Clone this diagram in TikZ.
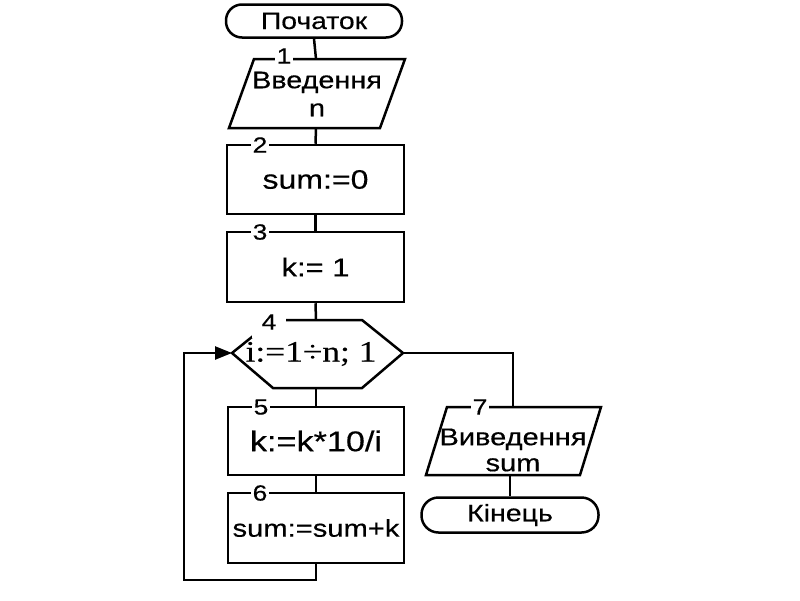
\documentclass[tikz,border=0pt]{standalone}
\usepackage{fontspec}
\setmainfont{Liberation Sans}[FakeStretch=1.2,FakeBold=0.4]
\newfontfamily\serifx{Liberation Serif}[FakeStretch=1.2,FakeBold=0.3]
\usetikzlibrary{arrows.meta}
\begin{document}
\begin{tikzpicture}[x=1pt,y=-1pt, line width=2.5pt, line join=miter,
  box/.style={draw, minimum width=177pt, minimum height=69pt, inner sep=0pt},
  term/.style={draw, rounded corners=16pt, minimum width=176pt, minimum height=33pt, inner sep=0pt},
  num/.style={fill=white, inner sep=1.5pt, font=\fontsize{22}{22}\selectfont},
  txt/.style={align=center, inner sep=0pt},
  fs/.style={font=\fontsize{#1}{#1}\selectfont}]
\useasboundingbox (0,0) rectangle (800,600);

% start terminal
\node[term, fs=23.6] (start) at (314,21) {Початок};

% 1: input parallelogram
\draw (254,59) -- (405,59) -- (380,128) -- (229,128) -- cycle;
\coordinate (p1top) at (316,59);
\coordinate (p1bot) at (316,128);
\node[txt, font=\fontsize{24}{28}\selectfont] (p1) at (317,94) {Введення\\n};

% 2, 3 boxes
\node[box, fs=26.7] (b2) at (315.5,179.5) {sum:=0};
\node[box, minimum height=70pt, fs=25.8] (b3) at (315.5,267) {k:= 1};

% 4: hexagon
\draw (232,353) -- (273,320) -- (362,320) -- (403,353) -- (362,388) -- (273,388) -- cycle;
\coordinate (hleft) at (232,353);
\coordinate (hright) at (403,353);
\coordinate (htop) at (316,320);
\coordinate (hbot) at (316,388);
\node[txt, font=\serifx\fontsize{29.5}{29.5}\selectfont] (h) at (311,354) {i:=1÷n;~1};

% 5, 6 boxes
\node[box, minimum width=176pt, minimum height=68pt, fs=28.5] (b5) at (316,441) {k:=k*10/i};
\node[box, minimum width=176pt, minimum height=70pt, fs=24.3] (b6) at (316,528) {sum:=sum+k};

% 7: output parallelogram
\draw (447,407) -- (601,407) -- (580,475) -- (426,475) -- cycle;
\coordinate (p7top) at (513,407);
\coordinate (p7bot) at (510,475);
\node[txt, font=\fontsize{24.2}{26}\selectfont] (p7) at (513,450) {Виведення\\sum};

% end terminal
\node[term, minimum width=177pt, minimum height=35pt, rounded corners=17pt, fs=23.8] (end) at (510,515) {Кінець};

% connectors
\draw (start.south) -- (p1top);
\draw (p1bot) -- (b2.north);
\draw (b2.south) -- (b3.north);
\draw (b3.south) -- (htop);
\draw (hbot) -- (b5.north);
\draw (b5.south) -- (b6.north);
\coordinate (loopc) at (184,580);
\draw[-{Triangle[length=17pt,width=13pt]}] (b6.south) |- (loopc) |- (hleft);
\draw (hright) -| (p7top);
\draw (p7bot) -- (end.north);

% numbers
\node[num] (n1) at (284,56) {1};
\node[num] (n2) at (260,145) {2};
\node[num] (n3) at (260,232) {3};
\node[num, minimum width=34pt, minimum height=31pt] (n4) at (269,322) {4};
\node[num] (n5) at (261,407) {5};
\node[num] (n6) at (260,493) {6};
\node[num] (n7) at (480,407) {7};
\end{tikzpicture}
\end{document}
